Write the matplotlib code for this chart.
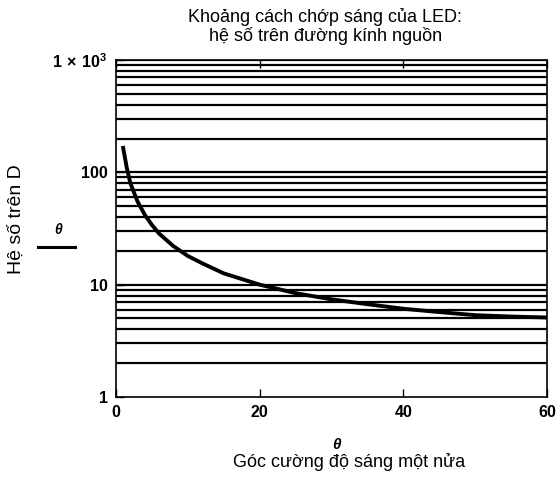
import matplotlib
matplotlib.use("Agg")
import matplotlib.pyplot as plt
from matplotlib.ticker import FixedLocator, FixedFormatter, NullLocator

plt.rcParams['font.family'] = ['Liberation Sans', 'DejaVu Sans']
plt.rcParams['mathtext.fontset'] = 'custom'
plt.rcParams['mathtext.rm'] = 'Liberation Sans'
plt.rcParams['mathtext.bf'] = 'Liberation Sans:bold'

# curve: factor vs half-intensity angle
theta = [1, 1.5, 2, 3, 4, 5, 6, 8, 10, 12, 15, 20, 25, 30, 35, 40, 45, 50, 55, 60]
factor = [165, 110, 80, 55, 42, 34, 28.5, 22, 18, 15.5, 12.6, 10.0, 8.4, 7.4,
          6.7, 6.1, 5.7, 5.35, 5.2, 5.1]

x_ticks = [0, 20, 40, 60]
y_ticks = [1, 10, 100, 1000]
y_tick_labels = ["1", "10", "100", r"$\mathbf{1\,\times\,10^{3}}$"]
grid_levels = [m * 10 ** e for e in range(3) for m in range(2, 11)]

fig = plt.figure(figsize=(5.56, 4.78), dpi=100)
ax = fig.add_axes([0.2086, 0.1695, 0.7752, 0.705])

for g in grid_levels:
    ax.axhline(g, color="black", lw=1.6, zorder=1)

ax.plot(theta, factor, color="black", lw=2.8, zorder=3)

ax.set_yscale("log")
ax.set_xlim(0, 60)
ax.set_ylim(1, 1000)
ax.xaxis.set_major_locator(FixedLocator(x_ticks))
ax.yaxis.set_major_locator(FixedLocator(y_ticks))
ax.yaxis.set_major_formatter(FixedFormatter(y_tick_labels))
ax.yaxis.set_minor_locator(NullLocator())
ax.tick_params(direction="in", top=True, right=False, length=6, width=1,
               labelsize=11.5, pad=6)
for lab in ax.get_xticklabels() + ax.get_yticklabels():
    lab.set_fontweight("bold")
for s in ax.spines.values():
    s.set_linewidth(1.2)

fig.text(0.585, 0.944, "Khoảng cách chớp sáng của LED:\nhệ số trên đường kính nguồn",
         ha="center", va="center", fontsize=13, linespacing=1.05)
fig.text(0.628, 0.034, "Góc cường độ sáng một nửa", ha="center", va="center", fontsize=13)
fig.text(0.606, 0.069, "θ", ha="center", va="center", fontsize=11,
         fontweight="bold", style="italic")

fig.text(0.029, 0.542, "Hệ số trên D", rotation=90, ha="center", va="center", fontsize=14)
fig.text(0.104, 0.519, "θ", ha="center", va="center", fontsize=10,
         fontweight="bold", style="italic")
fig.add_artist(plt.Line2D([0.068, 0.135], [0.483, 0.483], color="black", lw=2.2))

plt.savefig("out.png", dpi=100)
plt.close()
